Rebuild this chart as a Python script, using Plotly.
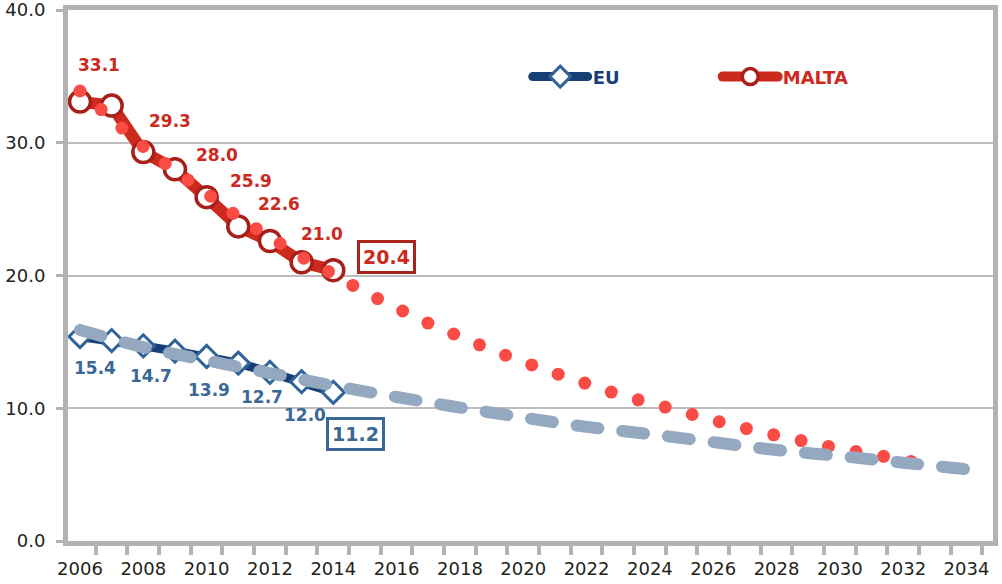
import plotly.graph_objects as go

# Observed values, 2006-2014
years = list(range(2006, 2015))
malta = [33.1, 32.8, 29.3, 28.0, 25.9, 23.7, 22.6, 21.0, 20.4]
eu = [15.4, 15.1, 14.7, 14.3, 13.9, 13.4, 12.7, 12.0, 11.2]

# Trend projections
malta_trend_years = list(range(2006, 2034))
malta_trend = [33.9, 31.8, 29.7, 27.9, 26.2, 24.4, 22.9, 21.4, 20.1, 18.75,
               17.55, 16.4, 15.4, 14.4, 13.5, 12.65, 11.85, 11.05, 10.4, 9.75,
               9.1, 8.5, 7.95, 7.45, 6.95, 6.55, 6.1, 5.7]
eu_trend_years = list(range(2006, 2035, 2))
eu_trend = [15.9, 14.6, 13.6, 12.65, 11.7, 10.85, 10.05, 9.3, 8.6, 8.05,
            7.45, 6.85, 6.4, 5.9, 5.4]

x_tick_years = list(range(2006, 2035, 2))
y_ticks = [0, 10, 20, 30, 40]

# Value-label placement: point index -> (x offset px, y offset px, boxed)
malta_label_pos = {0: (19, 37, False), 2: (27, 31, False), 3: (42, 14, False),
                   4: (44, 16, False), 6: (9, 37, False), 7: (20, 28, False),
                   8: (53, 13, True)}
eu_label_pos = {0: (15, -31, False), 2: (8, -30, False), 4: (2, -34, False),
                6: (-8, -25, False), 7: (3, -33, False), 8: (22, -42, True)}

MALTA_LINE = "#cc2a1c"
MALTA_EDGE = "#a81f1a"
MALTA_TEXT = "#cc2a1e"
MALTA_DOTS = "#fb4b45"
EU_LINE = "#173f75"
EU_EDGE = "#2f649b"
EU_TEXT = "#3a6896"
EU_DASH = "#94a8c0"
AXIS_GREY = "#b3b3b3"
FONT = "DejaVu Sans"

fig = go.Figure()

fig.add_trace(go.Scatter(
    x=years, y=eu, mode="lines+markers",
    name=f"<span style='color:{EU_LINE}'><b>EU</b></span>",
    line=dict(color=EU_LINE, width=9),
    marker=dict(symbol="diamond", size=17, color="white",
                line=dict(color=EU_EDGE, width=3)),
    hoverinfo="skip",
))
fig.add_trace(go.Scatter(
    x=years, y=malta, mode="lines+markers",
    name=f"<span style='color:{MALTA_TEXT}'><b>MALTA</b></span>",
    line=dict(color=MALTA_LINE, width=12),
    marker=dict(symbol="circle", size=21, color="white",
                line=dict(color=MALTA_EDGE, width=3.5)),
    hoverinfo="skip",
))
fig.add_trace(go.Scatter(
    x=malta_trend_years, y=malta_trend, mode="lines",
    line=dict(color=MALTA_DOTS, width=13, dash="0px,28px", shape="spline"),
    showlegend=False, hoverinfo="skip",
))
fig.add_trace(go.Scatter(
    x=eu_trend_years, y=eu_trend, mode="lines",
    line=dict(color=EU_DASH, width=12, dash="22px,24px", shape="spline"),
    showlegend=False, hoverinfo="skip",
))


def value_labels(values, placement, color, edge):
    notes = []
    for i, (dx, dy, boxed) in placement.items():
        note = dict(
            x=years[i], y=values[i], xref="x", yref="y",
            text=f"<b>{values[i]:.1f}</b>", showarrow=False,
            xshift=dx, yshift=dy,
            font=dict(family=FONT, size=19 if boxed else 17, color=color),
        )
        if boxed:
            note.update(bordercolor=edge, borderwidth=3, borderpad=3,
                        bgcolor="white")
        notes.append(note)
    return notes


annotations = (value_labels(malta, malta_label_pos, MALTA_TEXT, "#a8231c")
               + value_labels(eu, eu_label_pos, EU_TEXT, "#3a6796"))

fig.update_layout(
    width=1002, height=584,
    margin=dict(l=68, r=9, t=10, b=43),
    paper_bgcolor="white", plot_bgcolor="white",
    font=dict(family=FONT, size=18, color="#231f20"),
    annotations=annotations,
    showlegend=True,
    legend=dict(
        orientation="h", x=0.497, y=0.874, xanchor="left", yanchor="middle",
        font=dict(family=FONT, size=18),
        itemwidth=55,
        entrywidth=120, entrywidthmode="pixels",
        bgcolor="rgba(0,0,0,0)", itemclick=False,
    ),
    xaxis=dict(
        range=[2005.621, 2034.837], automargin=False,
        tickmode="array", tickvals=x_tick_years,
        ticktext=[str(y) for y in x_tick_years],
        ticks="outside", ticklen=7, tickcolor="rgba(0,0,0,0)",
        ticklabeloverflow="allow",
        minor=dict(ticks="outside", tick0=2005.5, dtick=1, ticklen=9,
                   tickwidth=4, tickcolor=AXIS_GREY, showgrid=False),
        showline=True, linecolor=AXIS_GREY, linewidth=5, mirror=True,
        showgrid=False, zeroline=False,
        tickfont=dict(family=FONT, size=18, color="#231f20"),
    ),
    yaxis=dict(
        range=[0, 40], automargin=False,
        tickmode="array", tickvals=y_ticks,
        ticktext=[f"{v:.1f}" for v in y_ticks],
        ticks="outside", ticklen=7, tickwidth=3, tickcolor=AXIS_GREY,
        ticklabelstandoff=7, ticklabeloverflow="allow",
        showline=True, linecolor=AXIS_GREY, linewidth=5, mirror=True,
        showgrid=True, gridcolor="#bdbdbd", gridwidth=2, zeroline=False,
        tickfont=dict(family=FONT, size=18, color="#231f20"),
    ),
)

# Round line ends so the dotted projection draws as discs and dashes get soft ends
round_caps = """
var s = document.createElement('style');
s.textContent = '.js-line { stroke-linecap: round; stroke-linejoin: round; }';
document.head.appendChild(s);
"""

fig.write_html("out.html", post_script=round_caps)
